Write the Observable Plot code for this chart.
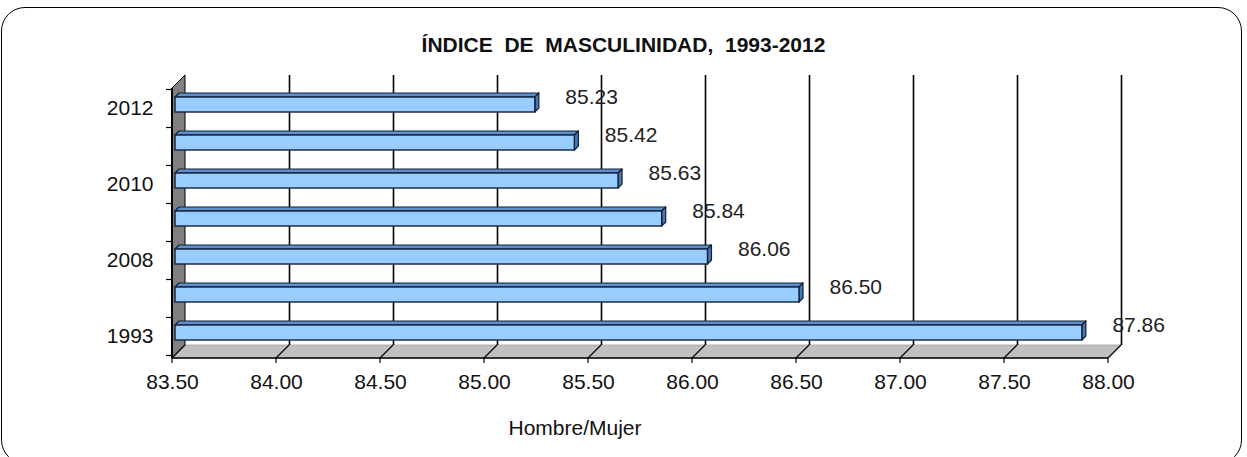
<!DOCTYPE html>
<html>
<head>
<meta charset="utf-8">
<script src="https://cdn.jsdelivr.net/npm/d3@7"></script>
<script src="https://cdn.jsdelivr.net/npm/@observablehq/plot@0.6"></script>
<style>
  html, body { margin: 0; padding: 0; background: #fff; }
  #wrap { position: relative; width: 1247px; height: 457px; overflow: hidden; font-family: "Liberation Sans", Arial, sans-serif; }
  #frame { position: absolute; left: 1px; top: 7px; width: 1241px; height: 457px; border: 1.5px solid #000; border-radius: 24px; box-sizing: border-box; }
  #title { position: absolute; left: 0; width: 1247px; top: 33px; text-align: center; font-weight: bold; font-size: 21px; white-space: pre; color: #111; }
  #xlabel { position: absolute; left: 475px; width: 200px; top: 416px; text-align: center; font-size: 21px; color: #111; }
  #chart { position: absolute; left: 0; top: 0; }
</style>
</head>
<body>
<div id="wrap">
  <div id="frame"></div>
  <div id="title">ÍNDICE  DE  MASCULINIDAD,  1993-2012</div>
  <div id="chart"></div>
  <div id="xlabel">Hombre/Mujer</div>
</div>
<script>
// ---- data ----
const categories = ["2012", "2011", "2010", "2009", "2008", "2005", "1993"];
const values = [85.23, 85.42, 85.63, 85.84, 86.06, 86.50, 87.86];
const xTicks = [83.5, 84, 84.5, 85, 85.5, 86, 86.5, 87, 87.5, 88];
const yTickLabels = ["2012", "2010", "2008", "1993"];

const data = categories.map((c, i) => ({year: c, value: values[i]}));
const xmin = xTicks[0], xmax = xTicks[xTicks.length - 1];

// 3D depth offsets (px)
const DEPTH = 13;
const BAR_DX = 3, BAR_DY = -4, BAR_D = 4;

function bw(s) { return typeof s.bandwidth === "function" ? s.bandwidth() : s.bandwidth; }
function stp(s) { return typeof s.step === "function" ? s.step() : s.step; }

// back structure: left wall, floor, floor tick diagonals
function structure(index, scales, values, dims) {
  const {x, y} = scales;
  const top = dims.marginTop, bot = dims.height - dims.marginBottom;
  const x0 = x(xmin), x1 = x(xmax);
  const g = d3.create("svg:g");
  g.append("path")
    .attr("d", `M${x0},${bot}L${x1},${bot}L${x1 + DEPTH},${bot - DEPTH}L${x0 + DEPTH},${bot - DEPTH}Z`)
    .attr("fill", "#c0c0c0").attr("stroke", "#b0b0b0").attr("stroke-width", 1);
  g.append("path")
    .attr("d", `M${x0},${top}L${x0 + DEPTH},${top - DEPTH}L${x0 + DEPTH},${bot - DEPTH}L${x0},${bot}Z`)
    .attr("fill", "#808080").attr("stroke", "#000").attr("stroke-width", 1);
  for (const t of xTicks) {
    g.append("line")
      .attr("x1", x(t)).attr("y1", bot).attr("x2", x(t) + DEPTH).attr("y2", bot - DEPTH)
      .attr("stroke", "#000").attr("stroke-width", 1.2);
  }
  return g.node();
}

// front axes: bottom line, bottom ticks, left line, category boundary ticks
function frontAxes(index, scales, values, dims) {
  const {x, y} = scales;
  const top = dims.marginTop, bot = dims.height - dims.marginBottom;
  const x0 = x(xmin), x1 = x(xmax);
  const g = d3.create("svg:g").attr("stroke", "#000");
  g.append("line").attr("x1", x0).attr("x2", x1).attr("y1", bot).attr("y2", bot).attr("stroke-width", 1.5);
  g.append("line").attr("x1", x0).attr("x2", x0).attr("y1", top).attr("y2", bot).attr("stroke-width", 2);
  for (const t of xTicks) {
    g.append("line").attr("x1", x(t)).attr("x2", x(t)).attr("y1", bot).attr("y2", bot + 5).attr("stroke-width", 1.2);
  }
  const s = stp(y), b = bw(y);
  const cats = y.domain();
  const edges = cats.map(c => y(c) - (s - b) / 2);
  edges.push(y(cats[cats.length - 1]) + b + (s - b) / 2);
  for (const e of edges) {
    g.append("line").attr("x1", x0 - 6).attr("x2", x0).attr("y1", e).attr("y2", e).attr("stroke-width", 1.2);
  }
  return g.node();
}

// 3D faces of bars (top face and end face)
function barFaces(index, scales, vals, dims) {
  const {x, y} = scales;
  const b = bw(y);
  const g = d3.create("svg:g").attr("stroke", "#10203a").attr("stroke-width", 1.2).attr("stroke-linejoin", "round");
  for (const d of data) {
    const X0 = x(xmin) + BAR_DX, X1 = x(d.value) + BAR_DX;
    const yt = y(d.year) + BAR_DY, yb = yt + b;
    g.append("path")
      .attr("d", `M${X0},${yt}L${X1},${yt}L${X1 + BAR_D},${yt - BAR_D}L${X0 + BAR_D},${yt - BAR_D}Z`)
      .attr("fill", "#5f8fc6");
    g.append("path")
      .attr("d", `M${X1},${yt}L${X1 + BAR_D},${yt - BAR_D}L${X1 + BAR_D},${yb - BAR_D}L${X1},${yb}Z`)
      .attr("fill", "#4a78ad");
  }
  return g.node();
}

const chart = Plot.plot({
  width: 1247,
  height: 457,
  marginTop: 88,
  marginBottom: 99,
  marginLeft: 172,
  marginRight: 139,
  style: {fontFamily: "'Liberation Sans', Arial, sans-serif", background: "transparent", color: "#111", overflow: "visible"},
  x: {domain: [xmin, xmax], axis: null},
  y: {domain: categories, paddingInner: 0.6, paddingOuter: 0.3, axis: null},
  marks: [
    structure,
    Plot.ruleX(xTicks.slice(1), {x: d => d, dx: DEPTH, dy: -DEPTH, stroke: "#000", strokeWidth: 1.6}),
    barFaces,
    Plot.barX(data, {x1: () => xmin, x2: "value", y: "year", dx: BAR_DX, dy: BAR_DY,
      fill: "#99ccff", stroke: "#10203a", strokeWidth: 1.4}),
    frontAxes,
    Plot.text(data, {x: "value", y: "year", text: d => d3.format(".2f")(d.value), dx: 33, dy: -12,
      textAnchor: "start", fontSize: 21, fill: "#222"}),
    Plot.text(xTicks, {x: d => d, frameAnchor: "bottom", dy: 30, text: d => d3.format(".2f")(d),
      fontSize: 21, fill: "#111"}),
    Plot.text(yTickLabels, {y: d => d, frameAnchor: "left", dx: -19, dy: -1, textAnchor: "end",
      fontSize: 21, fill: "#111"})
  ]
});
document.getElementById("chart").appendChild(chart);
</script>
</body>
</html>
